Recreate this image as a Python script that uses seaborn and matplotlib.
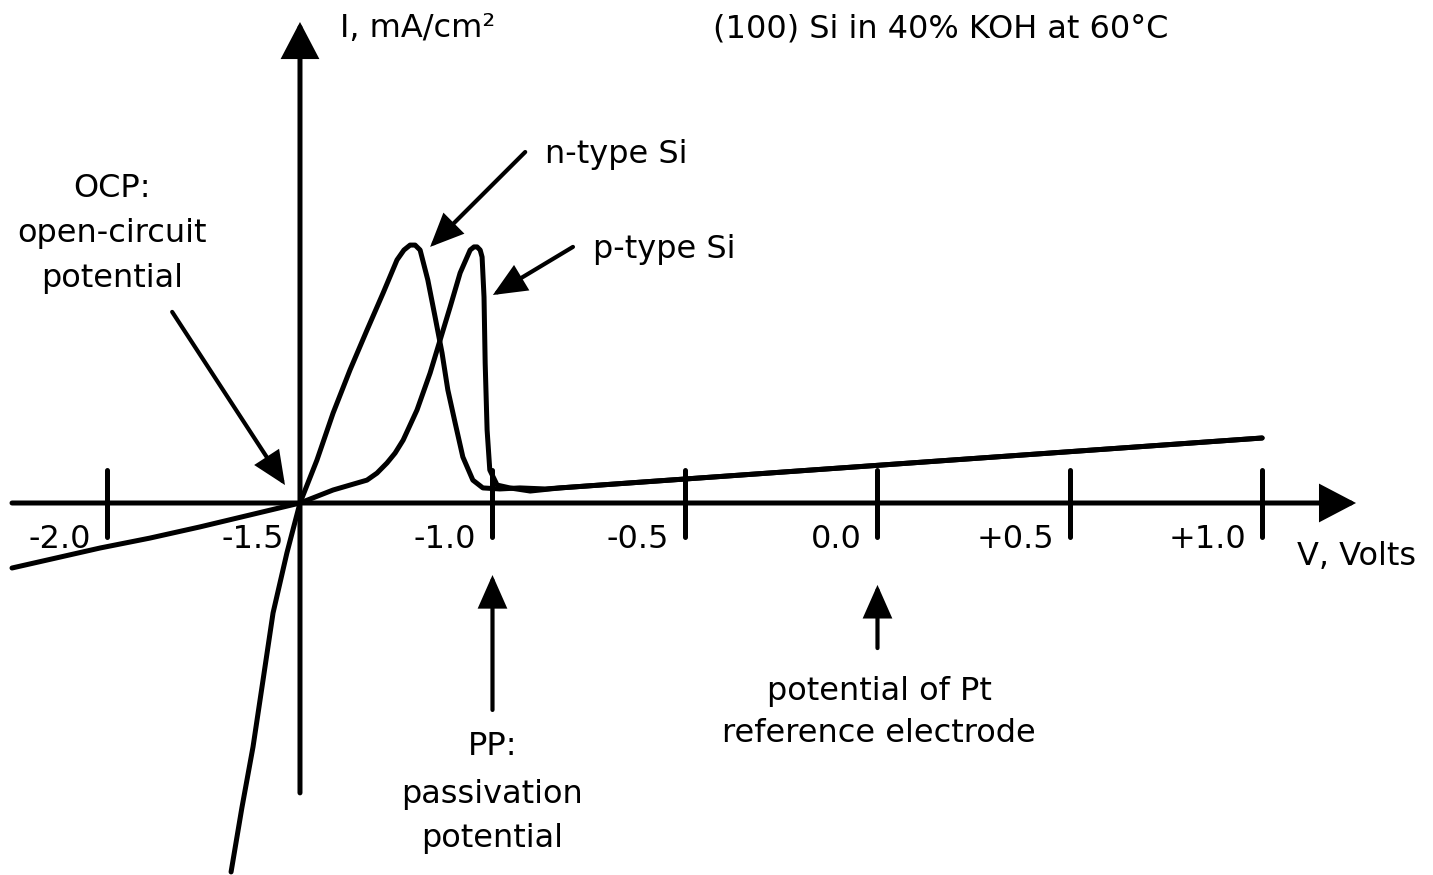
import numpy as np
import pandas as pd
import matplotlib
matplotlib.use("Agg")
import matplotlib.pyplot as plt
import seaborn as sns

# ---------------------------------------------------------------
# Data (V in volts, I in arbitrary units)
# ---------------------------------------------------------------
n_type_v = [-1.679, -1.651, -1.622, -1.596, -1.570, -1.534, -1.500, -1.456,
            -1.414, -1.370, -1.326, -1.284, -1.248, -1.230, -1.214, -1.201,
            -1.188, -1.168, -1.149, -1.131, -1.116, -1.097, -1.077, -1.051,
            -1.025, -0.981, -0.929, -0.863, -0.825, -0.721, 0.999]
n_type_i = [-14.19, -11.73, -9.38, -6.81, -4.23, -1.92, 0.0, 1.65,
            3.46, 5.12, 6.65, 8.08, 9.35, 9.73, 9.92, 9.92,
            9.73, 8.58, 7.15, 5.77, 4.35, 3.08, 1.77, 0.88,
            0.58, 0.54, 0.58, 0.54, 0.58, 0.69, 2.50]

p_type_v = [-2.248, -2.019, -1.890, -1.760, -1.630, -1.500, -1.414, -1.370,
            -1.326, -1.300, -1.274, -1.253, -1.232, -1.196, -1.162, -1.136,
            -1.110, -1.084, -1.058, -1.048, -1.040, -1.032, -1.027, -1.022,
            -1.019, -1.014, -1.007, -0.988, -0.955, -0.902, -0.825, -0.721,
            0.999]
p_type_i = [-2.50, -1.73, -1.35, -0.92, -0.46, 0.0, 0.50, 0.69,
            0.88, 1.15, 1.54, 1.92, 2.42, 3.58, 5.00, 6.27,
            7.54, 8.85, 9.73, 9.85, 9.85, 9.73, 9.46, 7.92,
            5.38, 2.81, 1.27, 0.69, 0.58, 0.46, 0.58, 0.69,
            2.50]

tick_volts = [-2.0, -1.5, -1.0, -0.5, 0.0, 0.5, 1.0]
tick_labels = ["-2.0", "-1.5", "-1.0", "-0.5", "0.0", "+0.5", "+1.0"]

# ---------------------------------------------------------------
# Layout constants
# ---------------------------------------------------------------
XLIM = (-2.2792, 1.4429)
YLIM = (-14.3077, 19.3462)
FS = 23
LW = 3.6


def arrow(ax, tip, tail, lw, hl, hw):
    ax.annotate("", xy=tip, xytext=tail,
                arrowprops=dict(arrowstyle=f"-|>,head_length={hl},head_width={hw}",
                                lw=lw, color="black", shrinkA=0, shrinkB=0,
                                mutation_scale=20, joinstyle="miter"))


def lines_text(ax, x, ys, lines, ha="center"):
    for y, s in zip(ys, lines):
        ax.text(x, y, s, ha=ha, va="baseline", fontsize=FS, color="black")


def main():
    sns.set_style("white")
    plt.rcParams["font.family"] = ["DejaVu Sans"]
    plt.rcParams["text.color"] = "black"

    fig = plt.figure(figsize=(14.33, 8.75), dpi=100)
    ax = fig.add_axes([0, 0, 1, 1])

    df = pd.concat([
        pd.DataFrame({"V": n_type_v, "I": n_type_i, "type": "n-type Si"}),
        pd.DataFrame({"V": p_type_v, "I": p_type_i, "type": "p-type Si"}),
    ], ignore_index=True)

    for name, grp in df.groupby("type"):
        sns.lineplot(data=grp, x="V", y="I", sort=False, estimator=None,
                     color="black", linewidth=LW, ax=ax,
                     solid_capstyle="round", solid_joinstyle="round")

    # axes drawn as arrows
    arrow(ax, (1.243, 0.0), (-2.248, 0.0), LW, 1.05, 0.55)
    arrow(ax, (-1.5, 18.5), (-1.5, -11.15), LW, 1.05, 0.55)

    # tick marks and labels
    ax.vlines([t for t in tick_volts if t != -1.5], -1.31, 1.27,
              color="black", lw=LW, capstyle="round")
    for t, lab in zip(tick_volts, tick_labels):
        ax.text(t - 0.042, -1.73, lab, ha="right", va="baseline", fontsize=FS)

    # axis titles
    ax.text(-1.396, 17.92, "I, mA/cm²", ha="left", va="baseline", fontsize=FS)
    ax.text(0.165, 17.92, "(100) Si in 40% KOH at 60°C", ha="center",
            va="baseline", fontsize=FS)
    ax.text(1.090, -2.38, "V, Volts", ha="left", va="baseline", fontsize=FS)

    # annotations
    ax.text(-0.864, 13.08, "n-type Si", ha="left", va="baseline", fontsize=FS)
    arrow(ax, (-1.162, 9.85), (-0.915, 13.5), 3.0, 0.95, 0.42)

    ax.text(-0.739, 9.42, "p-type Si", ha="left", va="baseline", fontsize=FS)
    arrow(ax, (-0.999, 8.0), (-0.791, 9.85), 3.0, 0.95, 0.42)

    lines_text(ax, -1.988, [11.77, 10.04, 8.31],
               ["OCP:", "open-circuit", "potential"])
    arrow(ax, (-1.539, 0.69), (-1.832, 7.35), 3.0, 0.95, 0.42)

    lines_text(ax, -1.0, [-9.69, -11.54, -13.23],
               ["PP:", "passivation", "potential"])
    arrow(ax, (-1.0, -2.77), (-1.0, -7.96), 3.0, 0.95, 0.42)

    lines_text(ax, 0.004, [-7.58, -9.19],
               ["potential of Pt", "reference electrode"])
    arrow(ax, (0.0, -3.15), (0.0, -5.58), 3.0, 0.95, 0.42)

    ax.set_xlim(*XLIM)
    ax.set_ylim(*YLIM)
    ax.axis("off")
    if ax.get_legend() is not None:
        ax.get_legend().remove()

    fig.savefig("out.png", dpi=100, facecolor="white")


if __name__ == "__main__":
    main()
